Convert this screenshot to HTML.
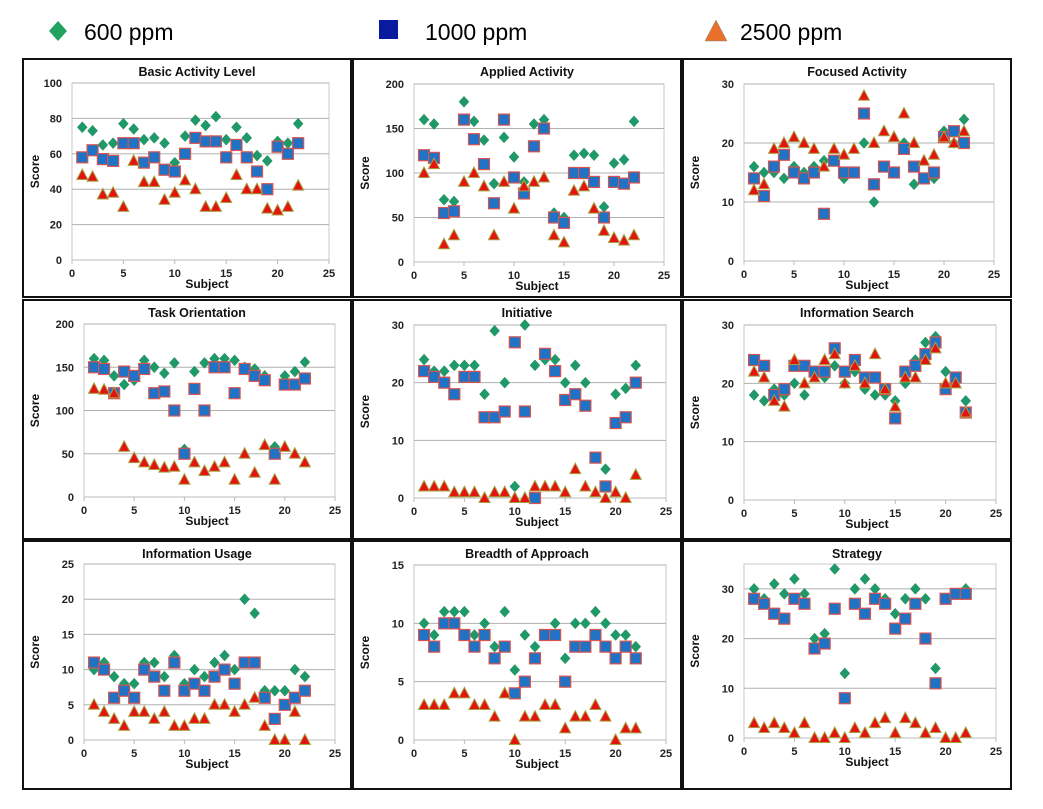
<!DOCTYPE html>
<html><head><meta charset="utf-8"><style>
html,body{margin:0;padding:0;background:#fff;}
svg{display:block;font-family:"Liberation Sans",sans-serif;}
</style></head><body>
<svg id="c" width="1043" height="809" viewBox="0 0 1043 809" xmlns="http://www.w3.org/2000/svg">
<g>
 <g><polygon points="58,21 67,31 58,41 49,31" fill="#22a35f"/><text x="84" y="40" font-size="23">600 ppm</text></g>
 <g><rect x="379" y="20" width="19" height="19" fill="#0a1a9e"/><text x="425" y="40" font-size="23">1000 ppm</text></g>
 <g><polygon points="716,20 727,41 705,41" fill="#e8702a" stroke="#888" stroke-width="0.5"/><text x="740" y="40" font-size="23">2500 ppm</text></g>
</g>
<g id="panels"></g>
</svg>
<script>
const titles=["Basic Activity Level","Applied Activity","Focused Activity","Task Orientation","Initiative","Information Search","Information Usage","Breadth of Approach","Strategy"];
const yMaxes=[100,200,30,200,30,30,25,15,35];
const yTickSteps=[20,50,10,50,10,10,5,5,10];
const xTicks=[0,5,10,15,20,25];
const d600=[
[75,73,65,66,77,74,68,69,66,55,70,79,76,81,68,75,69,59,56,67,66,77],
[160,155,70,68,180,158,137,88,140,118,90,155,160,55,50,120,122,120,62,111,115,158],
[16,15,15,14,16,15,16,17,17,14,15,20,10,16,15,20,13,14,14,22,20,24],
[160,158,140,130,135,158,150,143,155,55,145,155,160,160,158,150,148,140,58,140,145,156],
[24,22,22,23,23,23,18,29,20,2,30,23,24,24,20,23,20,7,5,18,19,23],
[18,17,19,18,20,18,22,21,23,20,22,19,18,18,17,20,24,27,28,22,21,17],
[10,11,9,8,8,11,11,9,12,8,10,9,11,12,10,20,18,7,7,7,10,9],
[10,9,11,11,11,9,10,8,11,6,9,8,9,10,7,10,10,11,10,9,9,8],
[30,28,31,29,32,29,20,21,34,13,30,32,30,28,25,28,30,28,14,28,29,30]];
const d1000=[
[58,62,57,56,66,66,55,58,51,50,60,69,67,67,58,65,58,50,40,64,60,66],
[120,117,55,57,160,138,110,66,160,95,77,130,150,50,44,100,100,90,50,90,88,95],
[14,11,16,18,15,14,15,8,17,15,15,25,13,16,15,19,16,14,15,21,22,20],
[150,148,120,145,140,148,120,122,100,50,125,100,150,150,120,148,140,135,50,130,130,137],
[22,21,20,18,21,21,14,14,15,27,15,0,25,22,17,18,16,7,2,13,14,20],
[24,23,18,19,23,23,22,22,26,22,24,21,21,19,14,22,23,25,27,19,21,15],
[11,10,6,7,6,10,9,7,11,7,8,7,9,10,8,11,11,6,3,5,6,7],
[9,8,10,10,9,8,9,7,8,4,5,7,9,9,5,8,8,9,8,7,8,7],
[28,27,25,24,28,27,18,19,26,8,27,25,28,27,22,24,27,20,11,28,29,29]];
const d2500=[
[48,47,37,38,30,56,44,44,34,38,45,40,30,30,35,48,40,40,29,28,30,42],
[100,110,20,30,90,100,85,30,90,60,85,90,95,30,22,80,85,60,35,27,24,30],
[12,13,19,20,21,20,19,16,19,18,19,28,20,22,21,25,20,17,18,21,20,22],
[125,124,120,58,45,40,37,34,35,20,40,30,35,40,20,50,28,60,20,58,50,40],
[2,2,2,1,1,1,0,1,1,0,0,2,2,2,1,5,2,1,0,1,0,4],
[22,21,17,16,24,20,21,24,25,20,23,20,25,19,16,21,21,24,26,20,20,15],
[5,4,3,2,4,4,3,4,2,2,3,3,5,5,4,5,6,2,0,0,4,0],
[3,3,3,4,4,3,3,2,4,0,2,2,3,3,1,2,2,3,2,0,1,1],
[3,2,3,2,1,3,0,0,1,0,2,1,3,4,1,4,3,1,2,0,0,1]];

const NS="http://www.w3.org/2000/svg";
const root=document.getElementById('panels');
const boxes=[[22,58,330,240],[352,58,330,240],[682,58,330,240],[22,299,330,241],[352,299,330,241],[682,299,330,241],[22,540,330,250],[352,540,330,250],[682,540,330,250]];
const plots=[[72,329,83,260],[414,664,84,262],[744,994,84,261],[84,335,324,497],[414,666,325,498],[744,996,325,500],[84,335,564,740],[414,666,565,740],[744,996,564,738]];
function el(tag,attrs,parent){const e=document.createElementNS(NS,tag);for(const k in attrs)e.setAttribute(k,attrs[k]);parent.appendChild(e);return e;}
for(let p=0;p<9;p++){
  const g=el('g',{},root);
  
  
  const b=boxes[p];
  const frame=el('rect',{x:b[0]+1,y:b[1]+1,width:b[2]-2,height:b[3]-2,fill:'none',stroke:'#111','stroke-width':2},g);
  
  
  const [x0,x1,yt,yb]=plots[p];
  const X=v=>x0+(x1-x0)*v/25;
  const Y=v=>yb-(yb-yt)*v/yMaxes[p];
  const pr=el('rect',{x:x0,y:yt,width:x1-x0,height:yb-yt,fill:'none',stroke:'#c8c8c8','stroke-width':1},g);
  
  
  for(let v=0;v<=yMaxes[p];v+=yTickSteps[p]){
    const ln=el('line',{x1:x0,x2:x1,y1:Y(v),y2:Y(v),stroke:v===0?'#bbb':'#b0b0b0','stroke-width':1},g);
    
    
    const t=el('text',{x:x0-10,y:Y(v)+4,'text-anchor':'end','font-size':11,'font-weight':'bold',fill:'#222'},g);
    t.textContent=v;
    
    
  }
  xTicks.forEach(v=>{
    el('line',{x1:X(v),x2:X(v),y1:yb,y2:yb+4,stroke:'#bbb'},g);
    const t=el('text',{x:X(v),y:yb+17,'text-anchor':'middle','font-size':11,'font-weight':'bold',fill:'#222'},g);
    t.textContent=v;
    
    
  });
  const tt=el('text',{x:(b[0]+b[0]+b[2])/2+10,y:b[1]+18,'text-anchor':'middle','font-size':12.5,'font-weight':'bold',fill:'#111'},g);
  tt.textContent=titles[p];
  
  
  const xl=el('text',{x:(b[0]+b[0]+b[2])/2+20,y:yb+28,'text-anchor':'middle','font-size':12,'font-weight':'bold',fill:'#111'},g);
  xl.textContent='Subject';
  
  
  const yc=(yt+yb)/2;
  const yl=el('text',{x:b[0]+17,y:yc,'text-anchor':'middle','font-size':12,'font-weight':'bold',fill:'#111',transform:'rotate(-90 '+(b[0]+17)+' '+yc+')'},g);
  yl.textContent='Score';
  
  
  d600[p].forEach((v,i)=>{
    const cx=X(i+1),cy=Y(v);
    const m=el('polygon',{points:`${cx},${cy-5.5} ${cx+5},${cy} ${cx},${cy+5.5} ${cx-5},${cy}`,fill:'#1e9a6a',stroke:'#2a8a5a','stroke-width':0.5},g);
    
    
  });
  d1000[p].forEach((v,i)=>{
    const cx=X(i+1),cy=Y(v);
    const m=el('rect',{x:cx-5.5,y:cy-5.5,width:11,height:11,fill:'#1f72c4',stroke:'#d9534f','stroke-width':1.2},g);
    
    
  });
  d2500[p].forEach((v,i)=>{
    const cx=X(i+1),cy=Y(v);
    const m=el('polygon',{points:`${cx},${cy-6} ${cx+5.5},${cy+4.5} ${cx-5.5},${cy+4.5}`,fill:'#e3140f',stroke:'#a8a040','stroke-width':1},g);
    
    
  });
}
</script>
</body></html>
